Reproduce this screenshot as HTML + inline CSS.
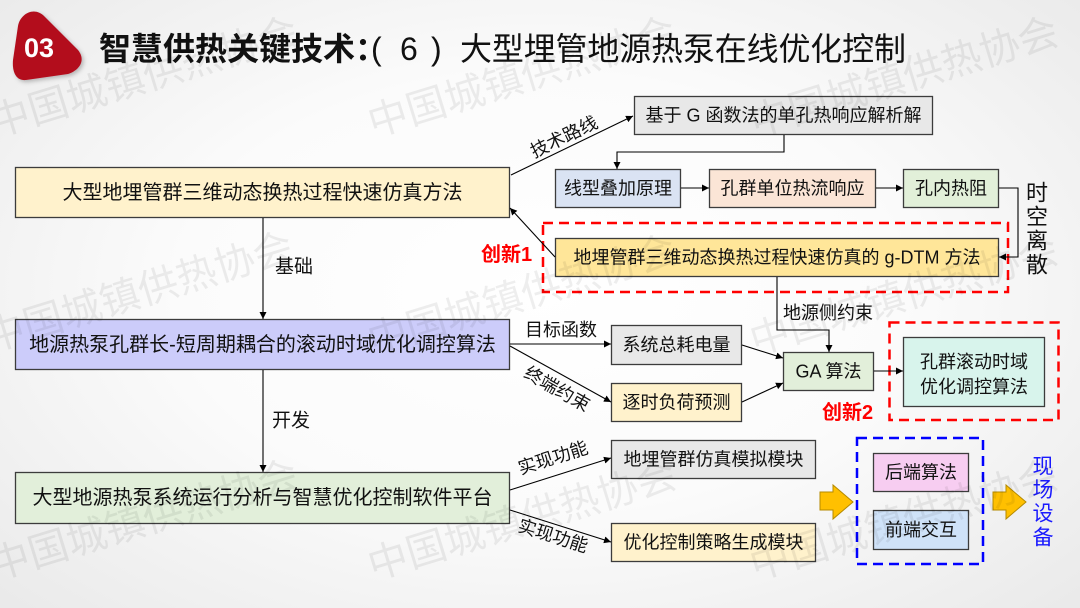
<!DOCTYPE html>
<html>
<head>
<meta charset="utf-8">
<style>
html,body{margin:0;padding:0;}
body{width:1080px;height:608px;overflow:hidden;background:radial-gradient(ellipse 75% 80% at 50% 48%, #ffffff 0%, #fbfbfb 45%, #e7e7e7 100%);}
svg{display:block;}
text{font-family:"Liberation Sans","Noto Sans CJK SC",sans-serif;}
</style>
</head>
<body>
<svg width="1080" height="608" viewBox="0 0 1080 608" xmlns="http://www.w3.org/2000/svg">
<defs>
<marker id="ah" viewBox="0 0 10 10" refX="10" refY="5" markerWidth="7" markerHeight="7" markerUnits="userSpaceOnUse" orient="auto">
<path d="M0,0 L10,5 L0,10 Z" fill="#000"/>
</marker>
<filter id="sh" x="-20%" y="-20%" width="150%" height="150%">
<feDropShadow dx="2" dy="2" stdDeviation="2" flood-color="#000" flood-opacity="0.25"/>
</filter>
</defs>

<!-- Title badge -->
<path d="M13,60 L18,26 C20,14 34,6 44,16 L78,50 C86,60 80,70 68,74 L26,80 C16,81 12,72 13,60 Z" fill="#b30d1f" filter="url(#sh)"/>
<text x="39" y="48" font-size="27" font-weight="bold" fill="#fff" text-anchor="middle" dominant-baseline="central">03</text>
<text x="99" y="49" font-size="32" font-weight="bold" fill="#111" dominant-baseline="central">智慧供热关键技术：</text>
<text y="49" font-size="32" fill="#111" dominant-baseline="central"><tspan x="371">(</tspan><tspan x="400">6</tspan><tspan x="431">)</tspan></text>
<text x="460" y="49" font-size="32" fill="#111" dominant-baseline="central" textLength="446">大型埋管地源热泵在线优化控制</text>

<!-- Boxes -->
<g stroke="#3c3c3c" stroke-width="1.3">
<rect x="15.5" y="167.5" width="494" height="50" fill="#fff2cc"/>
<rect x="15.5" y="319.5" width="494" height="50" fill="#ccccfa"/>
<rect x="15.5" y="472.5" width="494" height="51" fill="#e2efda"/>

<rect x="634.5" y="96.5" width="298" height="38" fill="#e8e8e8"/>
<rect x="555.5" y="169.5" width="125" height="38" fill="#dae3f3"/>
<rect x="709.5" y="169.5" width="166" height="38" fill="#fbe5d6"/>
<rect x="903.5" y="169.5" width="95" height="38" fill="#e2f0d9"/>
<rect x="555.5" y="238.5" width="443" height="38" fill="#ffe699"/>

<rect x="611.5" y="325.5" width="130" height="39" fill="#e8e8e8"/>
<rect x="611.5" y="383.5" width="130" height="38" fill="#fff2cc"/>
<rect x="783.5" y="352.5" width="90" height="38" fill="#e2efda"/>
<rect x="903.5" y="337.5" width="141" height="69" fill="#d8f4ec"/>

<rect x="611.5" y="440.5" width="204" height="38" fill="#e8e8e8"/>
<rect x="611.5" y="523.5" width="204" height="38" fill="#fff2cc"/>
<rect x="873.5" y="453.5" width="95" height="38" fill="#f7cdf1"/>
<rect x="873.5" y="510.5" width="95" height="39" fill="#cfe2f8"/>
</g>

<!-- Dashed frames -->
<rect x="543" y="223" width="465" height="69" fill="none" stroke="#ff0000" stroke-width="2.5" stroke-dasharray="10,6"/>
<rect x="889.5" y="322.5" width="169" height="97.5" fill="none" stroke="#ff0000" stroke-width="2.5" stroke-dasharray="10,6"/>
<rect x="857" y="438" width="126" height="126" fill="none" stroke="#0000ff" stroke-width="2.5" stroke-dasharray="10,6"/>

<!-- Connectors -->
<g stroke="#000" stroke-width="1.1" fill="none">
<line x1="263" y1="218" x2="263" y2="319" marker-end="url(#ah)"/>
<line x1="263" y1="370" x2="263" y2="472" marker-end="url(#ah)"/>
<line x1="511" y1="175" x2="633" y2="116" marker-end="url(#ah)"/>
<polyline points="784,135 784,152 617,152 617,169" marker-end="url(#ah)"/>
<line x1="681" y1="188" x2="709" y2="188" marker-end="url(#ah)"/>
<line x1="876" y1="188" x2="903" y2="188" marker-end="url(#ah)"/>
<polyline points="999,188 1018,188 1018,257 999,257" marker-end="url(#ah)"/>
<line x1="555" y1="257" x2="510" y2="208" marker-end="url(#ah)"/>
<polyline points="777,277 777,330 829,330 829,352" marker-end="url(#ah)"/>
<line x1="510" y1="344" x2="611" y2="344" marker-end="url(#ah)"/>
<line x1="510" y1="346" x2="611" y2="402" marker-end="url(#ah)"/>
<line x1="742" y1="345" x2="783" y2="358" marker-end="url(#ah)"/>
<line x1="742" y1="402" x2="783" y2="383" marker-end="url(#ah)"/>
<line x1="874" y1="371" x2="903" y2="371" marker-end="url(#ah)"/>
<line x1="510" y1="490" x2="611" y2="458" marker-end="url(#ah)"/>
<line x1="510" y1="510" x2="611" y2="542" marker-end="url(#ah)"/>
</g>

<!-- Block arrows -->
<path d="M820,492 L833,492 L833,485 L853,502 L833,519 L833,510 L820,510 Z" fill="#ffc000" stroke="#b58a00" stroke-width="1"/>
<path d="M993,492 L1006,492 L1006,485 L1026,502 L1006,519 L1006,510 L993,510 Z" fill="#ffc000" stroke="#b58a00" stroke-width="1"/>

<!-- Box texts -->
<g fill="#111" text-anchor="middle" dominant-baseline="central">
<text x="262.5" y="193" font-size="20">大型地埋管群三维动态换热过程快速仿真方法</text>
<text x="262.5" y="345" font-size="20">地源热泵孔群长-短周期耦合的滚动时域优化调控算法</text>
<text x="262.5" y="498" font-size="20">大型地源热泵系统运行分析与智慧优化控制软件平台</text>

<text x="783.5" y="115.5" font-size="18">基于 G 函数法的单孔热响应解析解</text>
<text x="618" y="188.5" font-size="18">线型叠加原理</text>
<text x="792.5" y="188.5" font-size="18">孔群单位热流响应</text>
<text x="951" y="188.5" font-size="18">孔内热阻</text>
<text x="777" y="257.5" font-size="18">地埋管群三维动态换热过程快速仿真的 g-DTM 方法</text>

<text x="676.5" y="345" font-size="18">系统总耗电量</text>
<text x="676.5" y="402.5" font-size="18">逐时负荷预测</text>
<text x="828.5" y="371.5" font-size="18">GA 算法</text>
<text x="974" y="362" font-size="18">孔群滚动时域</text>
<text x="974" y="387" font-size="18">优化调控算法</text>

<text x="713.5" y="459.5" font-size="18">地埋管群仿真模拟模块</text>
<text x="713.5" y="542.5" font-size="18">优化控制策略生成模块</text>
<text x="921" y="472.5" font-size="18">后端算法</text>
<text x="921" y="530" font-size="18">前端交互</text>
</g>

<!-- Connector labels -->
<g fill="#111" dominant-baseline="central" font-size="18">
<text x="275" y="267" font-size="19">基础</text>
<text x="272" y="421" font-size="19">开发</text>
<text x="561" y="330" text-anchor="middle">目标函数</text>
<text x="783" y="313">地源侧约束</text>
<text x="564" y="137" text-anchor="middle" transform="rotate(-25.8 564 137)">技术路线</text>
<text x="557" y="389" text-anchor="middle" transform="rotate(29.5 557 389)">终端约束</text>
<text x="553" y="458" text-anchor="middle" transform="rotate(-17.6 553 458)">实现功能</text>
<text x="553" y="536" text-anchor="middle" transform="rotate(17.6 553 536)">实现功能</text>
</g>

<!-- Vertical texts -->
<g fill="#111" font-size="22" text-anchor="middle" dominant-baseline="central">
<text x="1037" y="193">时</text>
<text x="1037" y="217">空</text>
<text x="1037" y="241">离</text>
<text x="1037" y="265">散</text>
</g>
<g fill="#1a1aff" font-size="21" text-anchor="middle" dominant-baseline="central">
<text x="1043" y="467">现</text>
<text x="1043" y="490.5">场</text>
<text x="1043" y="514">设</text>
<text x="1043" y="538">备</text>
</g>

<!-- Innovation labels -->
<text x="481" y="255" font-size="20" font-weight="bold" fill="#ff0000" dominant-baseline="central">创新1</text>
<text x="822" y="413" font-size="20" font-weight="bold" fill="#ff0000" dominant-baseline="central">创新2</text>

<!-- Watermarks -->
<g fill="#000" fill-opacity="0.065" font-size="40">
<text x="-5" y="137" transform="rotate(-17 -5 137)">中国城镇供热协会</text>
<text x="373" y="137" transform="rotate(-17 373 137)">中国城镇供热协会</text>
<text x="755" y="137" transform="rotate(-17 755 137)">中国城镇供热协会</text>
<text x="-10" y="352" transform="rotate(-17 -10 352)">中国城镇供热协会</text>
<text x="373" y="355" transform="rotate(-17 373 355)">中国城镇供热协会</text>
<text x="755" y="355" transform="rotate(-17 755 355)">中国城镇供热协会</text>
<text x="-5" y="580" transform="rotate(-17 -5 580)">中国城镇供热协会</text>
<text x="373" y="580" transform="rotate(-17 373 580)">中国城镇供热协会</text>
<text x="755" y="580" transform="rotate(-17 755 580)">中国城镇供热协会</text>
</g>
</svg>
</body>
</html>
